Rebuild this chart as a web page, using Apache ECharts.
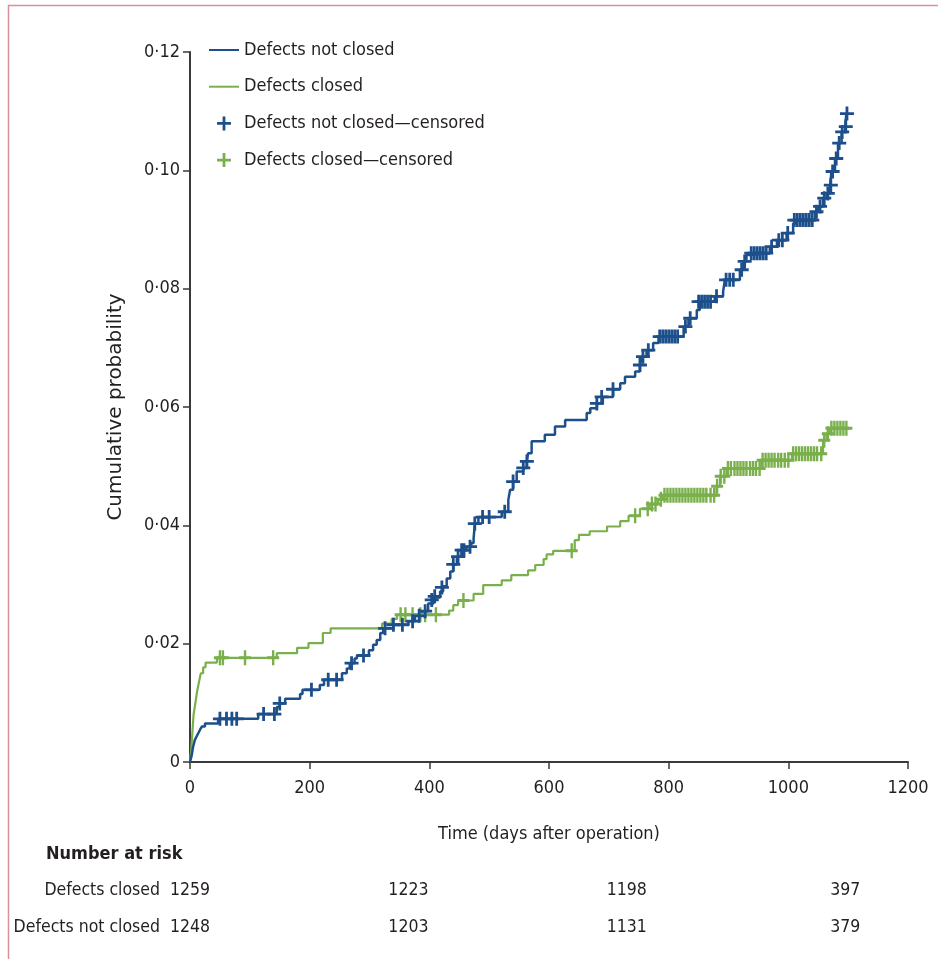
<!DOCTYPE html>
<html><head><meta charset="utf-8">
<script src="https://cdn.jsdelivr.net/npm/echarts@6/dist/echarts.min.js"></script>
<style>html,body{margin:0;padding:0;background:#fff}#c{width:938px;height:959px}</style>
</head><body><div id="c"></div>
<script>
// ---- data ----
const xTicks = [0, 200, 400, 600, 800, 1000, 1200];
const yTicks = [0, 0.02, 0.04, 0.06, 0.08, 0.10, 0.12];
const seriesNames = ['Defects not closed', 'Defects closed', 'Defects not closed\u2014censored', 'Defects closed\u2014censored'];
const notClosedSteps = [[0,0],[3,0.0012],[5,0.0025],[8,0.0037],[11,0.0043],[14,0.0049],[17,0.0055],[20,0.006],[25,0.0065],[47,0.0073],[114,0.0081],[145,0.0093],[150,0.0099],[159,0.0107],[184,0.0115],[188,0.0122],[217,0.013],[224,0.0139],[254,0.015],[262,0.0158],[267,0.0167],[275,0.0175],[279,0.018],[299,0.0189],[306,0.0198],[312,0.0206],[318,0.0218],[323,0.0226],[340,0.0232],[365,0.0238],[376,0.0247],[387,0.0255],[398,0.0268],[407,0.0278],[418,0.0288],[423,0.0297],[429,0.031],[435,0.0322],[440,0.0334],[446,0.0347],[454,0.0358],[462,0.0364],[470,0.037],[474,0.0378],[475,0.039],[476,0.0403],[482,0.0414],[521,0.0423],[532,0.0443],[535,0.046],[540,0.0474],[546,0.0491],[557,0.0497],[563,0.0508],[565,0.0522],[571,0.0542],[593,0.0553],[610,0.0567],[627,0.0578],[663,0.059],[669,0.0598],[680,0.0606],[690,0.0617],[707,0.063],[719,0.064],[727,0.0651],[744,0.066],[752,0.0671],[755,0.0685],[763,0.0696],[774,0.0708],[783,0.0719],[825,0.0736],[833,0.075],[847,0.0764],[852,0.0778],[877,0.0787],[891,0.0795],[894,0.0815],[919,0.0832],[925,0.0846],[930,0.0857],[936,0.086],[969,0.0871],[981,0.0882],[997,0.0894],[1008,0.091],[1012,0.0916],[1045,0.093],[1050,0.0939],[1058,0.0953],[1064,0.0961],[1070,0.0975],[1072,0.0998],[1078,0.102],[1083,0.1046],[1089,0.1065],[1095,0.1074],[1097,0.1096],[1100,0.1096]];
const notClosedCensored = [[50,0.0073],[61,0.0073],[70,0.0073],[78,0.0073],[123,0.0081],[141,0.0081],[150,0.0099],[203,0.0122],[231,0.0139],[245,0.0139],[270,0.0167],[290,0.018],[326,0.0226],[340,0.0232],[355,0.0232],[372,0.0238],[383,0.0247],[393,0.0255],[404,0.0274],[409,0.028],[421,0.0295],[440,0.0334],[448,0.0347],[454,0.0358],[458,0.0358],[468,0.0364],[476,0.0403],[489,0.0414],[500,0.0414],[526,0.0423],[540,0.0474],[557,0.0497],[563,0.0508],[680,0.0606],[688,0.0617],[707,0.063],[752,0.0671],[757,0.0685],[766,0.0696],[785,0.0719],[790,0.0719],[795,0.0719],[800,0.0719],[805,0.0719],[810,0.0719],[815,0.0719],[828,0.0736],[836,0.075],[850,0.0778],[855,0.0778],[860,0.0778],[865,0.0778],[870,0.0778],[880,0.0787],[896,0.0815],[902,0.0815],[908,0.0815],[922,0.0832],[927,0.0846],[938,0.086],[943,0.086],[948,0.086],[953,0.086],[958,0.086],[963,0.086],[972,0.0871],[984,0.0882],[990,0.0882],[999,0.0894],[1010,0.0916],[1015,0.0916],[1020,0.0916],[1025,0.0916],[1030,0.0916],[1035,0.0916],[1040,0.0916],[1047,0.093],[1053,0.0939],[1060,0.0953],[1066,0.0961],[1071,0.0975],[1074,0.0998],[1080,0.102],[1085,0.1046],[1090,0.1065],[1096,0.1074],[1098,0.1096]];
const closedSteps = [[0,0],[2,0.002],[4,0.005],[6,0.008],[9,0.01],[12,0.012],[15,0.0135],[18,0.015],[22,0.016],[26,0.0168],[45,0.0176],[145,0.0184],[179,0.0193],[198,0.0201],[222,0.0218],[235,0.0226],[321,0.0234],[337,0.0242],[346,0.0249],[433,0.0256],[440,0.0265],[448,0.0273],[474,0.0284],[490,0.0299],[521,0.0307],[537,0.0316],[565,0.0324],[577,0.0333],[591,0.0343],[596,0.0351],[607,0.0357],[643,0.0375],[650,0.0384],[668,0.039],[697,0.0398],[719,0.0407],[733,0.0416],[752,0.0428],[768,0.0436],[782,0.0444],[790,0.0451],[880,0.0466],[886,0.0483],[897,0.0496],[955,0.051],[1006,0.0521],[1058,0.0544],[1064,0.0555],[1070,0.0564],[1100,0.0564]];
const closedCensored = [[50,0.0176],[55,0.0176],[92,0.0176],[139,0.0176],[352,0.0249],[360,0.0249],[372,0.0249],[385,0.0249],[393,0.0249],[411,0.0249],[457,0.0273],[638,0.0357],[744,0.0416],[765,0.0428],[772,0.0436],[778,0.0436],[787,0.0444],[793,0.0451],[798,0.0451],[803,0.0451],[808,0.0451],[813,0.0451],[818,0.0451],[823,0.0451],[828,0.0451],[833,0.0451],[838,0.0451],[843,0.0451],[848,0.0451],[853,0.0451],[858,0.0451],[863,0.0451],[870,0.0451],[876,0.0451],[881,0.0466],[887,0.0483],[893,0.0483],[899,0.0496],[904,0.0496],[910,0.0496],[915,0.0496],[920,0.0496],[925,0.0496],[930,0.0496],[936,0.0496],[941,0.0496],[946,0.0496],[952,0.0496],[957,0.051],[962,0.051],[967,0.051],[972,0.051],[977,0.051],[983,0.051],[988,0.051],[994,0.051],[1000,0.051],[1008,0.0521],[1013,0.0521],[1018,0.0521],[1023,0.0521],[1028,0.0521],[1033,0.0521],[1038,0.0521],[1043,0.0521],[1048,0.0521],[1055,0.0521],[1060,0.0544],[1066,0.0555],[1072,0.0564],[1077,0.0564],[1082,0.0564],[1087,0.0564],[1092,0.0564],[1097,0.0564]];
const riskRows = ['Defects closed', 'Defects not closed'];
const riskTimes = [0, 365, 730, 1095];
const riskClosed = [1259, 1223, 1198, 397];
const riskNotClosed = [1248, 1203, 1131, 379];

// ---- style ----
const BLUE = '#1d4f8b', GREEN = '#79b04b', AX = '#3a3a3a', TXT = '#231f20';
const FONT = "'Liberation Sans Narrow','DejaVu Sans Condensed',sans-serif";
const TITLEFONT = "'DejaVu Sans',sans-serif";
const FS = 18, FS_RISK = 17.5;
const PLUS = 'path://M4,0L6,0L6,4L10,4L10,6L6,6L6,10L4,10L4,6L0,6L0,4L4,4Z';
const LINEICON = 'path://M0,0L30,0L30,2L0,2Z';
const fmtY = v => v === 0 ? '0' : v.toFixed(2).replace('.', '\u00b7');

const chart = echarts.init(document.getElementById('c'), null, {renderer: 'canvas'});
const riskData = [];
riskTimes.forEach((t, i) => {
  riskData.push([t, riskRows[0], riskClosed[i]]);
  riskData.push([t, riskRows[1], riskNotClosed[i]]);
});

chart.setOption({
  animation: false,
  backgroundColor: '#fff',
  graphic: [{type: 'rect', shape: {x: 8.5, y: 5.5, width: 1000, height: 1000}, style: {fill: 'none', stroke: '#d9909e', lineWidth: 1.5}, silent: true}],
  title: {text: 'Number at risk', left: 41, top: 840, textStyle: {fontFamily: FONT, fontSize: FS, fontWeight: 'bold', color: TXT}},
  legend: {
    orient: 'vertical', left: 209, top: 41, padding: 0, itemGap: 18.7, itemWidth: 30, itemHeight: 14,
    textStyle: {fontFamily: FONT, fontSize: FS, lineHeight: 14, color: TXT},
    data: [
      {name: seriesNames[0], icon: LINEICON}, {name: seriesNames[1], icon: LINEICON},
      {name: seriesNames[2], icon: PLUS}, {name: seriesNames[3], icon: PLUS}
    ]
  },
  grid: [
    {left: 190, right: 30, top: 52, bottom: 197, outerBoundsMode: 'none', containLabel: false},
    {left: 190, right: 30, top: 872, height: 74, outerBoundsMode: 'none', containLabel: false}
  ],
  xAxis: [{
    type: 'value', min: 0, max: 1200, interval: 200, gridIndex: 0,
    name: 'Time (days after operation)', nameLocation: 'middle', nameGap: 63,
    nameTextStyle: {fontFamily: FONT, fontSize: FS, color: TXT},
    axisLine: {lineStyle: {color: AX, width: 2}},
    axisTick: {length: 7, lineStyle: {color: AX, width: 1.5}},
    axisLabel: {fontFamily: FONT, fontSize: FS, color: TXT, margin: 17, formatter: v => String(v)},
    splitLine: {show: false}
  }, {
    type: 'value', min: 0, max: 1200, gridIndex: 1, show: false
  }],
  yAxis: [{
    type: 'value', min: 0, max: 0.12, interval: 0.02, gridIndex: 0,
    name: 'Cumulative probability', nameLocation: 'middle', nameGap: 64, nameRotate: 90,
    nameTextStyle: {fontFamily: TITLEFONT, fontSize: 20, color: TXT},
    axisLine: {show: true, lineStyle: {color: AX, width: 2}},
    axisTick: {show: true, length: 7, lineStyle: {color: AX, width: 1.5}},
    axisLabel: {fontFamily: FONT, fontSize: FS, color: TXT, margin: 10, formatter: fmtY},
    splitLine: {show: false}
  }, {
    type: 'category', gridIndex: 1, data: riskRows, inverse: true,
    axisLine: {show: false}, axisTick: {show: false},
    axisLabel: {fontFamily: FONT, fontSize: FS_RISK, color: TXT, margin: 30}
  }],
  series: [
    {name: seriesNames[0], type: 'line', step: 'end', data: notClosedSteps, symbol: 'none', showSymbol: false,
     lineStyle: {color: BLUE, width: 2.5}, itemStyle: {color: BLUE}, z: 3},
    {name: seriesNames[1], type: 'line', step: 'end', data: closedSteps, symbol: 'none', showSymbol: false,
     lineStyle: {color: GREEN, width: 2.2}, itemStyle: {color: GREEN}, z: 2},
    {name: seriesNames[2], type: 'scatter', data: notClosedCensored, symbol: PLUS, symbolSize: 14,
     itemStyle: {color: BLUE, opacity: 1}, z: 4},
    {name: seriesNames[3], type: 'scatter', data: closedCensored, symbol: PLUS, symbolSize: [12, 15],
     itemStyle: {color: GREEN, opacity: 1}, z: 3},
    {type: 'scatter', xAxisIndex: 1, yAxisIndex: 1, data: riskData, symbolSize: 0, silent: true,
     itemStyle: {opacity: 0},
     label: {show: true, position: 'inside', formatter: p => String(p.value[2]),
       fontFamily: FONT, fontSize: FS_RISK, color: TXT, opacity: 1}}
  ]
});
</script></body></html>
